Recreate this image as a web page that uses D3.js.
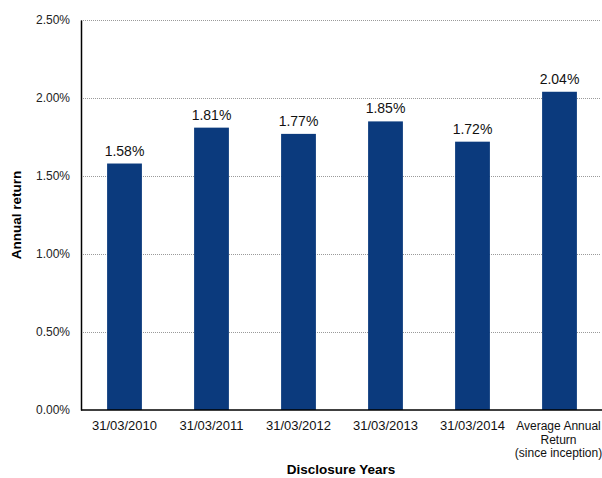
<!DOCTYPE html>
<html>
<head>
<meta charset="utf-8">
<script src="https://cdn.jsdelivr.net/npm/d3@7"></script>
<style>
  body { margin: 0; background: #fff; }
</style>
</head>
<body>
<svg width="602" height="478"></svg>
<script>
const categories = ["31/03/2010", "31/03/2011", "31/03/2012", "31/03/2013", "31/03/2014",
  "Average Annual|Return|(since inception)"];
const returns = [1.58, 1.81, 1.77, 1.85, 1.72, 2.04];
const yTicks = [0, 0.5, 1.0, 1.5, 2.0, 2.5];

const svg = d3.select("svg");
const narrow = "'Liberation Sans Narrow', 'Arial Narrow', 'Liberation Sans', sans-serif";

const plotL = 81, plotR = 603, plotT = 20, plotB = 410;

const x = d3.scaleBand()
  .domain(categories)
  .range([plotL, plotR])
  .paddingInner(0.6)
  .paddingOuter(0.3);

const y = d3.scaleLinear()
  .domain([0, 2.5])
  .range([plotB, plotT]);

// dotted gridlines
svg.append("g")
  .selectAll("line")
  .data(yTicks.filter(d => d > 0))
  .enter().append("line")
  .attr("x1", plotL)
  .attr("x2", 600)
  .attr("y1", d => y(d) + 0.5)
  .attr("y2", d => y(d) + 0.5)
  .attr("stroke", "#9a9a9a")
  .attr("stroke-width", 1)
  .attr("stroke-dasharray", "1,1");

// y axis
const gy = svg.append("g")
  .attr("transform", `translate(${plotL},0)`)
  .call(d3.axisLeft(y).tickValues(yTicks).tickSize(0).tickPadding(11)
    .tickFormat(d => d.toFixed(2) + "%"));
gy.select(".domain").attr("stroke", "#000").attr("stroke-width", 1.5);
gy.selectAll("text")
  .attr("font-family", narrow)
  .attr("font-size", 12)
  .attr("fill", "#222");

// bars
svg.append("g")
  .selectAll("rect")
  .data(returns)
  .enter().append("rect")
  .attr("x", (d, i) => x(categories[i]))
  .attr("width", x.bandwidth())
  .attr("y", d => y(d))
  .attr("height", d => y(0) - y(d))
  .attr("fill", "#0b3a7d");

// value labels
svg.append("g")
  .selectAll("text")
  .data(returns)
  .enter().append("text")
  .attr("x", (d, i) => x(categories[i]) + x.bandwidth() / 2)
  .attr("y", d => y(d) - 8)
  .attr("text-anchor", "middle")
  .attr("font-family", "'Liberation Sans', Arial, sans-serif")
  .attr("font-size", 14)
  .attr("fill", "#111")
  .text(d => d.toFixed(2) + "%");

// x axis line
svg.append("line")
  .attr("x1", plotL)
  .attr("x2", plotR)
  .attr("y1", plotB)
  .attr("y2", plotB)
  .attr("stroke", "#000")
  .attr("stroke-width", 1.5);

// category labels
const xl = svg.append("g")
  .selectAll("text")
  .data(categories)
  .enter().append("text")
  .attr("x", d => x(d) + x.bandwidth() / 2 - (d.includes("|") ? 1 : 0))
  .attr("y", 430)
  .attr("text-anchor", "middle")
  .attr("font-family", narrow)
  .attr("font-size", d => d.includes("|") ? 12 : 13)
  .attr("fill", "#111");
xl.selectAll("tspan")
  .data(d => d.split("|"))
  .enter().append("tspan")
  .attr("x", function() { return d3.select(this.parentNode).attr("x"); })
  .attr("dy", (d, i) => i ? 13.5 : 0)
  .text(d => d);

// axis titles
svg.append("text")
  .attr("transform", "translate(21,215) rotate(-90)")
  .attr("text-anchor", "middle")
  .attr("font-family", narrow)
  .attr("font-weight", "bold")
  .attr("font-size", 13.5)
  .text("Annual return");

svg.append("text")
  .attr("x", 341)
  .attr("y", 474)
  .attr("text-anchor", "middle")
  .attr("font-family", narrow)
  .attr("font-weight", "bold")
  .attr("font-size", 13.5)
  .text("Disclosure Years");
</script>
</body>
</html>
